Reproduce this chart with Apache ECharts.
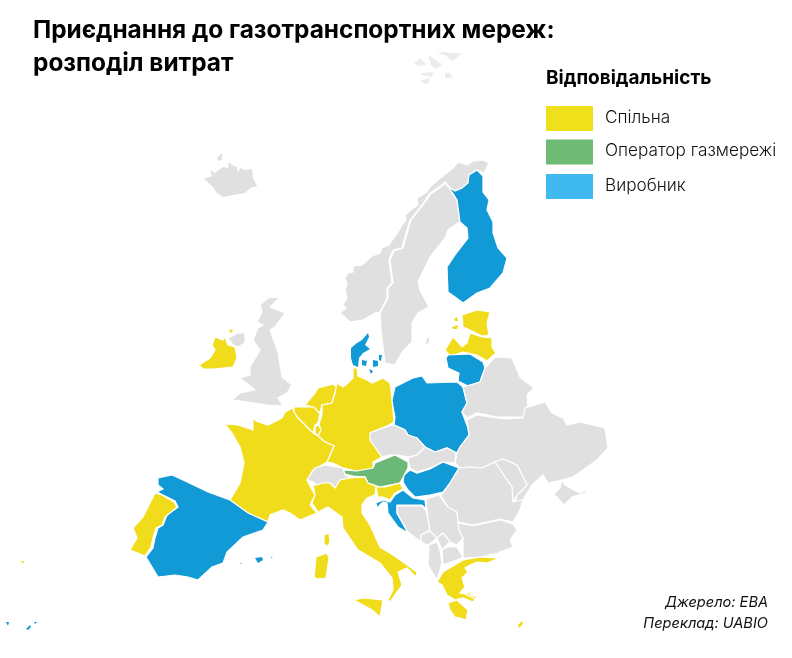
<!DOCTYPE html>
<html>
<head>
    <meta charset="utf-8">
    <title>Приєднання до газотранспортних мереж</title>
    <script src="https://cdn.jsdelivr.net/npm/echarts@6/dist/echarts.min.js"></script>
    <style>html,body{margin:0;background:#fff}</style>
</head>
<body>
    <div id="main" style="width:792px;height:658px"></div>
    <script type="text/javascript">
        var titleLines = ['Приєднання до газотранспортних мереж:', 'розподіл витрат'];
        var legendTitle = 'Відповідальність';
        var legendLabels = ['Спільна', 'Оператор газмережі', 'Виробник'];
        var legendColors = ['#eee01a', '#6fba75', '#40b8f0'];
        var sourceLines = ['Джерело: EBA', 'Переклад: UABIO'];

        // who pays, country by country
        var shared = ['France', 'Germany', 'Italy', 'Portugal', 'Ireland', 'Belgium', 'Netherlands', 'Luxembourg',
            'Estonia', 'Latvia', 'Greece', 'Slovenia', 'EstonianIslands', 'Madeira', 'Crete'];
        var operator = ['Austria'];
        var producer = ['Spain', 'Finland', 'Poland', 'Denmark', 'Lithuania', 'Hungary', 'Croatia', 'Balearics', 'Canaries'];
        var noData = ['Iceland', 'Svalbard', 'Norway', 'Sweden', 'UK', 'Belarus', 'Ukraine', 'Moldova', 'Czechia',
            'Slovakia', 'Switzerland', 'Romania', 'Bulgaria', 'Serbia', 'Kosovo', 'Montenegro', 'Albania',
            'Macedonia', 'Bosnia'];
        // too small to carry the white border
        var noBorder = ['Denmark', 'Svalbard', 'Iceland', 'EstonianIslands', 'Madeira', 'Crete', 'Balearics', 'Canaries'];

        var mapYellow = '#f1dc1b', mapGreen = '#6cb977', mapBlue = '#129ad6', mapGrey = '#e0e0e0';

        // outlines, one list of rings per country
        var outlines = {
            Iceland: [[[204,179],[212,176],[210,170],[215,173],[220,169],[223,167],[228,168],[229,162],[232,165],[237,167],[238,173],[240,168],[245,170],[252,169],[253,178],[257,186],[250,188],[245,193],[233,195],[223,197],[217,193],[213,187]],
                [[217,158],[222,153],[222,160],[218,161]]],
            Svalbard: [[[414,64],[420,58],[427,65],[420,66]],
                [[428,55],[433,58],[442,65],[435,69],[431,65]],
                [[420,73],[433,72],[432,77],[423,75]],
                [[420,81],[430,78],[428,84],[423,83]],
                [[437,53],[443,52],[450,53],[462,53],[457,58],[452,61],[445,55]],
                [[445,73],[450,73],[453,78],[445,78]]],
            Norway: [[[340,313],[346,308],[343,305],[347,298],[345,290],[347,285],[345,278],[348,273],[353,272],[353,266],[362,265],[372,256],[380,253],[382,248],[389,245],[393,239],[398,232],[402,225],[406,220],[405,215],[412,209],[418,205],[417,198],[427,192],[430,187],[438,180],[445,174],[453,168],[458,162],[467,165],[473,161],[483,160],[489,163],[484,173],[477,170],[469,175],[468,183],[462,188],[455,191],[450,188],[445,182],[442,185],[430,193],[422,205],[410,220],[405,237],[402,248],[393,250],[389,260],[392,283],[387,288],[387,298],[380,312],[375,313],[363,320],[350,322]]],
            Sweden: [[[445,183],[450,189],[455,192],[452,193],[457,200],[460,222],[458,223],[448,230],[445,238],[430,257],[418,282],[420,290],[429,307],[418,313],[412,323],[412,342],[402,352],[395,365],[385,363],[381,330],[380,313],[388,298],[388,288],[393,283],[390,260],[394,251],[403,248],[406,237],[411,220],[423,205],[431,194],[442,186]],
                [[425,343],[428,335],[430,341],[426,346]]],
            Finland: [[[445,182],[450,188],[455,191],[462,188],[468,183],[469,175],[477,170],[483,176],[483,192],[489,200],[487,210],[493,222],[493,233],[498,248],[507,258],[503,273],[490,288],[477,293],[463,303],[455,297],[448,292],[447,267],[455,255],[468,238],[467,228],[460,222],[457,200],[452,192]]],
            Estonia: [[[462,315],[477,310],[490,312],[487,323],[489,335],[482,336],[470,330],[463,327]]],
            EstonianIslands: [[[452,327],[458,325],[457,329],[453,329]],
                [[454,319],[457,317],[458,321],[455,321]]],
            Latvia: [[[445,350],[453,337],[458,342],[462,347],[467,343],[470,333],[482,337],[492,338],[492,347],[496,353],[487,361],[477,355],[463,352],[450,356]]],
            Lithuania: [[[446,358],[448,355],[470,354],[483,362],[485,368],[480,382],[468,386],[458,381],[459,373],[448,368]]],
            Denmark: [[[351,348],[357,343],[362,340],[368,333],[369,337],[365,345],[370,349],[363,353],[359,358],[358,367],[353,365],[351,358]],
                [[362,360],[367,361],[366,366],[362,365]],
                [[373,360],[378,361],[378,366],[373,367]],
                [[379,355],[382,355],[381,361],[379,360]],
                [[369,369],[373,371],[371,374]]],
            UK: [[[268,298],[280,297],[270,307],[285,313],[275,327],[270,330],[278,352],[282,377],[292,385],[287,393],[278,398],[283,406],[267,405],[248,402],[232,400],[240,393],[255,390],[240,378],[250,375],[250,367],[260,350],[253,340],[258,328],[263,325],[257,322],[262,312],[260,305]],
                [[228,338],[238,333],[245,333],[245,343],[238,347],[233,345]]],
            Ireland: [[[215,337],[223,340],[225,337],[228,345],[235,347],[237,358],[233,367],[213,369],[203,369],[199,365],[210,358],[215,350],[212,345]],
                [[229,329],[233,329],[233,333],[229,333]]],
            Netherlands: [[[305,405],[315,393],[318,388],[333,384],[337,387],[335,393],[332,403],[322,405],[320,413],[313,407]]],
            Belgium: [[[294,407],[305,407],[314,407],[320,414],[318,423],[315,425],[313,433],[305,425],[298,418],[294,412]]],
            Luxembourg: [[[315,427],[319,425],[321,430],[318,436],[315,433]]],
            Germany: [[[353,368],[357,368],[358,376],[367,380],[372,383],[383,378],[390,383],[392,398],[394,422],[389,425],[372,432],[370,440],[382,457],[373,462],[373,469],[357,471],[343,468],[333,463],[327,462],[334,446],[325,442],[318,436],[321,430],[319,424],[322,415],[322,405],[332,403],[335,393],[337,383],[343,387],[348,383],[353,378]]],
            France: [[[293,408],[285,412],[282,418],[268,425],[256,421],[253,418],[253,430],[238,425],[225,424],[232,433],[240,447],[244,463],[240,483],[230,500],[248,513],[268,522],[270,515],[283,510],[290,513],[300,520],[317,513],[310,505],[315,495],[311,488],[307,480],[313,470],[327,462],[334,446],[325,442],[318,436],[313,433],[305,425],[298,418],[294,412]]],
            Spain: [[[158,478],[172,475],[183,480],[208,492],[230,500],[248,513],[268,522],[263,530],[243,537],[227,552],[223,563],[212,567],[198,580],[188,577],[175,575],[158,577],[152,567],[146,557],[153,548],[155,538],[158,528],[163,525],[167,515],[178,507],[175,501],[163,495],[157,492],[163,489],[158,485]]],
            Balearics: [[[255,558],[262,557],[263,560],[258,563]],
                [[240,563],[242,563],[241,564]],
                [[271,557],[273,558],[271,558]]],
            Canaries: [[[6,622],[9,622],[8,626]],
                [[26,629],[30,625],[31,627],[28,630]],
                [[34,622],[37,622],[35,624]]],
            Madeira: [[[21,561],[24,561],[23,564]]],
            Portugal: [[[155,493],[162,495],[174,502],[177,507],[165,517],[162,525],[156,528],[153,538],[151,547],[145,556],[130,550],[137,538],[133,528],[143,517]]],
            Poland: [[[392,400],[395,387],[413,378],[422,376],[427,383],[457,382],[463,387],[467,403],[462,412],[468,428],[469,435],[460,447],[457,453],[447,448],[435,452],[425,447],[417,438],[408,435],[405,430],[394,425],[395,417],[393,407]]],
            Belarus: [[[463,387],[480,382],[485,368],[495,357],[512,358],[520,377],[534,388],[527,395],[528,408],[523,417],[508,417],[497,417],[477,413],[467,418],[462,412],[467,403]]],
            Ukraine: [[[467,420],[477,415],[497,418],[508,419],[523,418],[525,408],[545,402],[552,413],[563,418],[567,425],[580,422],[605,428],[608,448],[597,460],[573,477],[562,480],[548,483],[543,475],[532,485],[523,500],[515,503],[517,495],[527,485],[517,465],[503,459],[495,462],[482,468],[470,467],[460,468],[455,463],[457,453],[460,447],[469,435],[468,428]],
                [[562,480],[565,485],[580,493],[587,490],[586,493],[572,497],[564,505],[557,497],[553,495],[560,488]]],
            Moldova: [[[495,462],[503,459],[517,465],[527,485],[517,495],[513,502],[512,487],[505,477]]],
            Czechia: [[[370,433],[372,432],[389,426],[394,425],[405,430],[408,435],[417,438],[425,447],[417,455],[408,457],[398,455],[390,455],[382,457],[370,440]]],
            Slovakia: [[[425,447],[435,452],[447,448],[456,453],[455,463],[443,462],[430,468],[417,472],[410,468],[408,458],[417,455]]],
            Hungary: [[[404,475],[410,470],[417,473],[430,469],[443,462],[459,468],[450,483],[443,492],[430,495],[415,497],[408,490],[403,482]]],
            Austria: [[[343,470],[357,471],[373,468],[375,463],[395,455],[408,462],[408,468],[400,483],[380,487],[368,483],[365,477],[353,476],[345,474]]],
            Switzerland: [[[307,480],[315,468],[325,465],[343,468],[345,475],[350,478],[340,480],[335,488],[330,483],[323,483],[317,485],[313,482]]],
            Italy: [[[313,485],[317,485],[323,483],[330,483],[335,488],[340,480],[350,478],[365,477],[368,483],[376,486],[375,495],[367,498],[362,505],[362,513],[370,525],[380,547],[393,555],[417,572],[416,577],[407,568],[398,572],[402,585],[397,592],[390,602],[388,600],[393,590],[392,578],[380,563],[358,550],[343,528],[342,517],[328,507],[318,512],[312,503],[315,495]],
                [[316,557],[327,553],[329,558],[326,578],[317,579],[314,577]],
                [[324,535],[329,533],[330,542],[327,547],[324,543]],
                [[354,600],[363,598],[383,600],[380,617],[372,610]]],
            Slovenia: [[[376,487],[385,487],[400,483],[403,489],[395,493],[390,500],[383,497],[378,497]]],
            Croatia: [[[403,490],[413,498],[425,500],[426,509],[422,505],[407,505],[397,505],[397,513],[408,533],[398,527],[388,513],[387,503],[383,502],[377,508],[376,503],[383,500],[390,502],[395,495]]],
            Bosnia: [[[397,506],[407,506],[422,506],[426,511],[428,518],[430,530],[421,535],[421,542],[408,532],[397,513]]],
            Serbia: [[[426,499],[439,495],[448,507],[457,512],[459,530],[463,538],[457,545],[450,542],[443,533],[437,538],[430,532],[428,518],[427,510]]],
            Kosovo: [[[437,538],[443,533],[450,542],[442,550]]],
            Montenegro: [[[421,535],[430,531],[437,538],[428,545],[421,542]]],
            Albania: [[[429,545],[437,542],[440,550],[442,563],[437,580],[428,565]]],
            Macedonia: [[[442,550],[448,547],[457,547],[463,557],[457,560],[443,565]]],
            Romania: [[[459,468],[470,467],[482,468],[495,462],[505,477],[512,487],[513,502],[523,500],[520,510],[513,522],[500,519],[473,525],[458,522],[457,512],[448,507],[441,496],[450,483]]],
            Bulgaria: [[[458,523],[473,526],[500,520],[513,524],[517,530],[510,540],[513,547],[498,553],[480,557],[463,558],[463,548],[463,538],[459,530]]],
            Greece: [[[437,582],[443,572],[463,560],[480,557],[498,558],[499,553],[500,558],[487,563],[477,562],[470,565],[465,568],[468,572],[462,578],[465,587],[460,593],[477,597],[473,602],[463,598],[455,600],[447,595],[442,585]],
                [[448,603],[457,600],[468,610],[466,620],[460,618],[455,617],[450,610]],
                [[467,592],[477,597],[475,599],[467,595]]],
            Crete: [[[518,625],[522,621],[523,624],[519,628]]]
        };

        var features = [];
        for (var name in outlines) {
            features.push({
                type: 'Feature',
                properties: { name: name },
                geometry: { type: 'MultiPolygon', coordinates: outlines[name].map(function (r) { return [r]; }) }
            });
        }
        echarts.registerMap('europe', { type: 'FeatureCollection', features: features });

        function group(names, color) {
            return names.map(function (n) {
                var fill = n === 'Svalbard' ? '#ececec' : color;
                return { name: n, value: 1, itemStyle: { areaColor: fill, borderWidth: noBorder.indexOf(n) >= 0 ? 0 : 1.2 } };
            });
        }
        var mapData = group(shared, mapYellow).concat(group(operator, mapGreen), group(producer, mapBlue), group(noData, mapGrey));

        // legend and footnotes
        var legendTop = [106, 139.5, 174];
        var graphics = [{ type: 'text', left: 546, top: 69, style: { text: legendTitle, font: 'bold 19px Inter', fill: '#000' } }];
        legendLabels.forEach(function (label, i) {
            graphics.push({ type: 'rect', left: 546, top: legendTop[i], shape: { width: 47, height: 25 }, style: { fill: legendColors[i] } });
            graphics.push({ type: 'text', left: 605, top: legendTop[i] + 3, style: { text: label, font: '300 17.2px Inter', fill: '#111' } });
        });
        sourceLines.forEach(function (line, i) {
            graphics.push({ type: 'text', right: 24, top: 595 + i * 21, style: { text: line, font: 'italic 14.6px Inter', fill: '#111' } });
        });

        var chart = echarts.init(document.getElementById('main'));
        chart.setOption({
            animation: false,
            title: {
                left: 28, top: 9,
                text: titleLines.join('\n'),
                textStyle: { fontFamily: 'Inter', fontSize: 24.4, fontWeight: 'bold', color: '#000', lineHeight: 33 }
            },
            graphic: graphics,
            series: [{
                type: 'map',
                map: 'europe',
                silent: true,
                left: 0, top: 0, width: 792, height: 658,
                projection: { project: function (p) { return p; }, unproject: function (p) { return p; } },
                boundingCoords: [[0, 0], [792, 658]],
                label: { show: false },
                itemStyle: { borderColor: '#fff', borderWidth: 1.2, areaColor: mapGrey },
                emphasis: { disabled: true },
                select: { disabled: true },
                data: mapData
            }]
        });
    </script>
</body>
</html>
